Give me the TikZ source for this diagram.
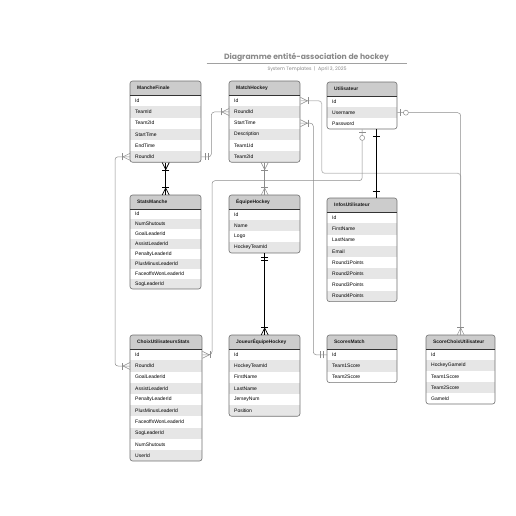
\documentclass[tikz,border=0pt]{standalone}
\usepackage{graphicx}
\usepackage{fontspec}
\setmainfont{Liberation Sans}
\newfontfamily\titlefont{Poppins}
\definecolor{hdrgray}{HTML}{CCCCCC}
\definecolor{rowgray}{HTML}{E6E6E6}
\definecolor{bordergray}{HTML}{707070}
\definecolor{linegray}{HTML}{8C8C8C}
\definecolor{lightline}{HTML}{BDBDBD}
\definecolor{titlegray}{HTML}{8A8A8A}
\tikzset{
  rownode/.style={inner xsep=5pt, inner ysep=0pt, anchor=north west, align=left,
     font=\fontsize{5}{5.5}\selectfont, text=black},
  hdrnode/.style={inner xsep=7pt, inner ysep=0pt, anchor=north west, align=left,
     fill=hdrgray, font=\fontsize{4.9}{5.5}\selectfont\bfseries, text=black!90},
  conn/.style={draw=linegray, line width=0.5pt, rounded corners=3pt},
  lconn/.style={draw=lightline, line width=0.8pt, rounded corners=3pt},
  strongconn/.style={draw=black, line width=0.9pt},
  thinmk/.style={linegray, line width=0.5pt},
  strongmk/.style={black, line width=0.7pt},
  crowbar/.pic={\draw (0,-3.5) -- (7,0) -- (0,3.5); \draw (8,-3.5) -- (8,3.5);},
  twobars/.pic={\draw (4,-3.5) -- (4,3.5) (7,-3.5) -- (7,3.5);},
  onebar/.pic={\draw (7,-3.5) -- (7,3.5);},
  barcirc/.pic={\draw (3,-3.5) -- (3,3.5); \draw[fill=white] (8.5,0) circle[radius=2.5pt];},
}
% #1 name, #2 x, #3 y top, #4 width, #5 row height, #6 number of rows, #7 header, #8 rows
\newcommand\erdentity[8]{%
  \pgfmathsetmacro\erdH{14+#6*#5}%
  \pgfmathsetmacro\erdTW{#4-10}%
  \pgfmathsetmacro\erdHW{#4-14}%
  \begin{scope}
    \clip[rounded corners=2.5pt] (#2,#3) rectangle ++(#4,\erdH);
    \node[hdrnode, text width=\erdHW pt, minimum height=14pt] (#1-h) at (#2,#3) {#7};
    \foreach \r [count=\i] in {#8} {
      \pgfmathsetmacro\erdY{#3+14+(\i-1)*#5}
      \ifodd\i\relax\def\erdfill{white}\else\def\erdfill{rowgray}\fi
      \node[rownode, fill=\erdfill, text width=\erdTW pt, minimum height=#5pt] (#1-r\i) at (#2,\erdY) {\r};
    }
  \end{scope}
  \draw[bordergray, line width=0.6pt, rounded corners=2.5pt] (#2,#3) rectangle ++(#4,\erdH);
  \draw[black!80, line width=0.9pt] (#2,#3+14) -- ++(#4,0);
  \node[inner sep=0pt, minimum width=#4pt, minimum height=\erdH pt, anchor=north west] (#1) at (#2,#3) {};
}
\begin{document}
\begin{tikzpicture}[x=1pt, y=-1pt]
\useasboundingbox[fill=white] (0,0) rectangle (516,516);
% title
\node[text=titlegray, inner sep=0pt] (title) at (306.5,57.5)
  {\resizebox{165pt}{!}{\titlefont\bfseries Diagramme entité-association de hockey}};
\draw[titlegray!80, line width=0.6pt] (206.7,63.5) -- (406.7,63.5);
\node[text=titlegray, inner sep=0pt] (subtitle) at (307,69.5)
  {\resizebox{79pt}{!}{\titlefont System Templates~~|~~April 3, 2025}};
% entities
\erdentity{MF}{130}{81}{71}{11.2}{6}{MancheFinale}{Id,TeamId,Team2Id,StartTime,EndTime,RoundId}
\erdentity{MH}{229}{81}{71}{11.2}{6}{MatchHockey}{Id,RoundId,StartTime,Description,Team1Id,Team2Id}
\erdentity{U}{327}{82}{70}{11}{3}{Utilisateur}{Id,Username,Password}
\erdentity{SM}{130}{195}{71}{10}{8}{StatsManche}{Id,NumShutouts,GoalLeaderId,AssistLeaderId,PenaltyLeaderId,PlusMinusLeaderId,FaceoffsWonLeaderId,SogLeaderId}
\erdentity{EH}{229}{195}{71}{11}{4}{ÉquipeHockey}{Id,Name,Logo,HockeyTeamId}
\erdentity{IU}{327}{198}{70}{11.2}{8}{InfosUtilisateur}{Id,FirstName,LastName,Email,Round1Points,Round2Points,Round3Points,Round4Points}
\erdentity{CUS}{130}{335}{72}{11.2}{10}{ChoixUtilisateursStats}{Id,RoundId,GoalLeaderId,AssistLeaderId,PenaltyLeaderId,PlusMinusLeaderId,FaceoffsWonLeaderId,SogLeaderId,NumShutouts,UserId}
\erdentity{JEH}{229}{335}{71}{11.2}{6}{JoueurÉquipeHockey}{Id,HockeyTeamId,FirstName,LastName,JerseyNum,Position}
\erdentity{SCM}{327}{335}{70}{11.2}{3}{ScoresMatch}{Id,Team1Score,Team2Score}
\erdentity{SCU}{426}{335}{69}{11}{5}{ScoreChoixUtilisateur}{Id,HockeyGameId,Team1Score,Team2Score,GameId}
% helper coordinates
\coordinate (u5) at (212,180.7);
\coordinate (m8) at (321.7,173.3);
\coordinate (m9) at (313.3,200);
% connectors
\draw[lconn] (MH-r1.east) -| (m8) -| (SCU.north);
\draw[conn] (U-r2.east) -| (SCU.north);
\draw[conn] (MH-r3.east) -| (m9) |- (SCM-r1.west);
\draw[conn] (U.south) |- (u5) |- (CUS-r1.east);
\draw[conn] (MF-r6.east) -- ++(10,0) |- (MH-r2.west);
\draw[conn] (MF-r6.west) -- ++(-15,0) |- (CUS-r2.west);
\draw[conn] (MH.south) -- (EH.north);
\draw[strongconn] (MF.south) -- (SM.north);
\draw[strongconn] ([xshift=14pt]U.south) -- ([xshift=14pt]IU.north);
\draw[strongconn] (EH.south) -- (JEH.north);
% end marks
\pic[thinmk] at (MH-r1.east) {crowbar};
\pic[thinmk] at (MH-r3.east) {crowbar};
\pic[thinmk, rotate=90] at (SCU.north) {crowbar};
\pic[thinmk] at (U-r2.east) {barcirc};
\pic[thinmk, rotate=180] at (SCM-r1.west) {twobars};
\pic[thinmk, rotate=-90] at (U.south) {barcirc};
\pic[thinmk] at (CUS-r1.east) {crowbar};
\pic[thinmk] at (MF-r6.east) {twobars};
\pic[thinmk, rotate=180] at (MH-r2.west) {crowbar};
\pic[thinmk, rotate=180] at (MF-r6.west) {crowbar};
\pic[thinmk, rotate=180] at (CUS-r2.west) {crowbar};
\pic[thinmk, rotate=-90] at (MH.south) {crowbar};
\pic[thinmk, rotate=90] at (EH.north) {crowbar};
\pic[strongmk, rotate=-90] at (MF.south) {crowbar};
\pic[strongmk, rotate=90] at (SM.north) {crowbar};
\pic[strongmk, rotate=-90] at ([xshift=14pt]U.south) {onebar};
\pic[strongmk, rotate=90] at ([xshift=14pt]IU.north) {onebar};
\pic[strongmk, rotate=-90] at (EH.south) {twobars};
\pic[strongmk, rotate=90] at (JEH.north) {crowbar};
\end{tikzpicture}
\end{document}
